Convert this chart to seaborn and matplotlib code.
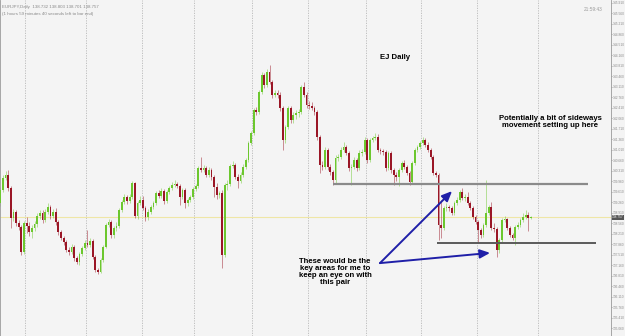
import numpy as np
import pandas as pd
import matplotlib
matplotlib.use("Agg")
import matplotlib.pyplot as plt
import seaborn as sns

# ---------------- data (EURJPY daily) ----------------
first_open = 139.23
closes = [139.67, 140.07, 140.17, 139.73, 138.73, 138.93, 138.57, 138.43, 137.60, 138.57,
          138.47, 138.27, 138.40, 138.53, 138.80, 138.90, 138.67, 138.93, 139.10, 138.80,
          138.93, 138.60, 138.27, 138.07, 137.93, 137.67, 137.60, 137.77, 137.40, 137.27,
          137.53, 137.73, 137.90, 137.83, 137.97, 137.43, 137.00, 136.93, 137.33, 137.77,
          138.50, 138.60, 138.17, 138.40, 138.47, 139.00, 139.27, 139.43, 139.30, 139.43,
          139.90, 138.80, 139.23, 139.33, 139.07, 138.77, 138.93, 139.10, 139.23, 139.57,
          139.47, 139.63, 139.30, 139.60, 139.73, 139.83, 139.87, 139.80, 139.43, 139.67,
          139.23, 139.33, 139.43, 139.70, 139.80, 140.40, 140.33, 140.40, 140.17, 140.33,
          140.10, 139.77, 139.50, 139.57, 137.50, 139.83, 139.87, 140.47, 140.50, 140.10,
          139.97, 140.17, 140.43, 140.67, 141.23, 141.57, 142.33, 142.27, 142.93, 143.50,
          143.17, 143.60, 143.27, 142.83, 142.90, 142.83, 142.40, 141.33, 141.77, 142.40,
          142.00, 142.17, 142.23, 142.27, 143.10, 142.83, 142.50, 142.47, 142.40, 142.27,
          141.43, 140.50, 140.43, 141.00, 140.43, 140.27, 140.00, 140.73, 140.77, 141.00,
          141.10, 140.90, 140.40, 140.43, 140.67, 140.40, 140.90, 140.93, 141.33, 140.67,
          141.33, 141.40, 141.43, 141.00, 140.97, 140.93, 140.40, 140.90, 140.33, 140.17,
          140.10, 140.33, 140.57, 140.43, 140.23, 139.93, 140.57, 141.00, 141.10, 141.23,
          141.33, 141.17, 141.00, 140.77, 140.23, 140.17, 138.50, 138.40, 139.07, 139.10,
          139.07, 138.90, 139.23, 139.33, 139.60, 139.40, 139.43, 139.23, 139.07, 138.77,
          138.60, 138.33, 138.17, 138.50, 138.90, 139.10, 138.40, 138.37, 137.67, 138.00,
          138.67, 138.70, 138.40, 138.17, 138.07, 138.43, 138.50, 138.67, 138.77, 138.83,
          138.73, 138.76]
highs = [139.77, 140.17, 140.30, 140.33, 139.80, 139.03, 139.00, 138.67, 138.50, 138.63,
         138.77, 138.60, 138.50, 138.63, 138.90, 139.00, 139.00, 139.03, 139.23, 139.17,
         139.03, 139.07, 138.67, 138.33, 138.13, 138.00, 137.77, 137.87, 137.83, 137.47,
         137.60, 137.80, 138.00, 138.33, 138.07, 138.03, 137.50, 137.07, 137.40, 137.83,
         138.57, 138.70, 138.67, 138.47, 138.60, 139.07, 139.33, 139.53, 139.50, 139.53,
         139.97, 139.93, 139.30, 139.47, 139.47, 139.13, 139.03, 139.17, 139.30, 139.63,
         139.67, 139.73, 139.70, 139.67, 139.80, 139.93, 140.00, 139.93, 139.87, 139.73,
         139.73, 139.40, 139.50, 139.77, 139.87, 140.47, 140.77, 140.50, 140.47, 140.43,
         140.40, 140.17, 139.90, 139.63, 139.67, 139.90, 140.00, 140.53, 140.63, 140.57,
         140.20, 140.27, 140.53, 140.73, 141.30, 141.63, 142.40, 142.43, 143.00, 143.60,
         143.57, 143.70, 143.83, 143.33, 143.00, 143.00, 142.93, 142.47, 141.83, 142.47,
         142.47, 142.27, 142.33, 142.37, 143.17, 143.27, 142.93, 142.63, 142.60, 142.47,
         142.33, 141.50, 140.63, 141.10, 141.07, 140.53, 140.33, 140.83, 140.87, 141.10,
         141.27, 141.17, 140.97, 140.53, 140.77, 140.73, 141.00, 141.03, 141.43, 141.40,
         141.40, 141.47, 141.57, 141.53, 141.07, 141.03, 141.00, 140.97, 140.97, 140.40,
         140.27, 140.40, 140.63, 140.67, 140.50, 140.30, 140.63, 141.07, 141.17, 141.30,
         141.43, 141.40, 141.27, 141.07, 140.83, 140.30, 140.23, 139.33, 139.13, 139.23,
         139.17, 139.13, 139.30, 139.43, 139.67, 139.73, 139.53, 139.60, 139.30, 139.13,
         138.83, 138.67, 138.40, 138.57, 140.00, 139.17, 139.27, 138.57, 138.43, 138.07,
         138.73, 138.80, 138.73, 138.47, 138.23, 138.50, 138.60, 138.73, 138.90, 139.00,
         138.93, 138.80]
lows = [139.13, 139.60, 140.00, 139.63, 138.40, 138.63, 138.47, 138.33, 137.50, 137.53,
        138.23, 138.13, 138.07, 138.30, 138.43, 138.70, 138.57, 138.60, 138.87, 138.70,
        138.73, 138.50, 138.17, 138.00, 137.83, 137.60, 137.50, 137.53, 137.30, 137.20,
        137.17, 137.47, 137.67, 137.77, 137.77, 137.37, 136.93, 136.87, 136.90, 137.27,
        137.73, 138.43, 138.07, 138.07, 138.30, 138.40, 138.93, 139.20, 139.20, 139.23,
        139.37, 138.73, 138.70, 139.17, 139.00, 138.63, 138.67, 138.87, 139.03, 139.17,
        139.40, 139.40, 139.20, 139.23, 139.53, 139.67, 139.77, 139.73, 139.17, 139.37,
        139.07, 139.13, 139.27, 139.37, 139.63, 139.73, 140.27, 140.27, 140.10, 140.10,
        140.00, 139.43, 139.37, 139.40, 137.07, 137.43, 139.67, 139.80, 140.40, 140.03,
        139.73, 139.90, 140.10, 140.37, 140.60, 141.17, 141.50, 142.17, 142.20, 142.87,
        143.07, 143.10, 143.20, 142.73, 142.77, 142.73, 142.30, 141.00, 141.23, 141.70,
        141.90, 141.90, 142.03, 142.10, 142.20, 142.77, 142.40, 142.37, 142.33, 142.17,
        141.33, 140.23, 140.33, 140.37, 140.33, 140.17, 139.83, 139.90, 140.63, 140.70,
        140.93, 140.83, 140.30, 139.83, 140.37, 140.30, 140.33, 140.80, 140.87, 140.57,
        140.60, 141.27, 141.33, 140.93, 140.87, 140.83, 140.30, 140.33, 140.23, 139.83,
        139.97, 139.80, 140.27, 140.37, 140.17, 139.83, 139.87, 140.50, 140.93, 141.03,
        141.17, 141.10, 140.93, 140.70, 140.17, 140.10, 138.00, 138.07, 138.33, 138.97,
        138.97, 138.83, 138.83, 139.17, 139.27, 139.33, 139.30, 139.17, 139.00, 138.70,
        138.53, 137.90, 138.07, 138.10, 138.43, 138.83, 138.33, 138.27, 137.43, 137.57,
        137.93, 138.60, 138.33, 138.10, 138.00, 137.83, 138.37, 138.43, 138.60, 138.70,
        138.30, 138.70]

month_breaks = [9.5, 32.5, 53.5, 73.5, 95.5, 116.5, 138.5, 159.5, 180.5, 203.5]
price_ticks = [145.910, 145.560, 145.210, 144.860, 144.510, 144.160, 143.810, 143.460,
               143.110, 142.760, 142.410, 142.060, 141.710, 141.360, 141.010, 140.660,
               140.310, 139.960, 139.610, 139.260, 138.910, 138.560, 138.210, 137.860,
               137.510, 137.160, 136.810, 136.460, 136.110, 135.760, 135.410, 135.060]
current_price = 138.757
resistance = {"price": 139.86, "start": 126.0, "end": 222.6}
support = {"price": 137.89, "start": 165.3, "end": 225.6}
arrow_start = (143.8, 137.23)
arrow_tips = [(171.1, 139.63), (185.5, 137.57)]

df = pd.DataFrame({"close": closes, "high": highs, "low": lows})
df["open"] = [first_open] + closes[:-1]
df["bar"] = np.arange(len(df))
df["bull"] = df["close"] >= df["open"]

# ---------------- style ----------------
sns.set_theme(style="white")
plt.rcParams["font.family"] = ["Liberation Sans", "DejaVu Sans"]

BG = "#f4f4f4"
GREEN = "#6cc72e"
RED = "#9a1626"

fig = plt.figure(figsize=(6.25, 3.36), dpi=100, facecolor=BG)
ax = fig.add_axes([0.0, 0.0, 611 / 625, 1.0])
ax.set_facecolor(BG)
ax.set_xlim(-0.1, 231.3)
ax.set_ylim(134.80, 146.00)

for xb in month_breaks:
    ax.axvline(xb, color="#b8b8b8", lw=0.6, ls=(0, (1.5, 1.5)), zorder=0)

ax.axhline(current_price, color="#efe6a6", lw=0.8, zorder=1)

colors = np.where(df["bull"], GREEN, RED)
ax.vlines(df["bar"], df["low"], df["high"], colors=colors, lw=0.55, alpha=0.6, zorder=2)
body_bottom = np.minimum(df["open"], df["close"])
body_height = np.maximum(np.abs(df["close"] - df["open"]), 0.02)
ax.bar(df["bar"], body_height, bottom=body_bottom, width=0.68, color=colors,
       linewidth=0, zorder=3)

# support / resistance lines
ax.hlines(resistance["price"], resistance["start"], resistance["end"], color="#8a8a8a", lw=1.6, zorder=4)
ax.hlines(support["price"], support["start"], support["end"], color="#5a5a5a", lw=1.4, zorder=4)

# arrows
for tip in arrow_tips:
    ax.annotate("", xy=tip, xytext=arrow_start,
                arrowprops=dict(arrowstyle="-|>,head_length=0.5,head_width=0.22",
                                color="#1f1fa8", lw=1.4, shrinkA=0, shrinkB=0), zorder=5)

txt = dict(fontweight="bold", color="black", ha="center", va="center", fontsize=5.6)
ax.text(149.5, 144.10, "EJ Daily", **txt)
ax.text(208.2, 141.93, "Potentially a bit of sideways\nmovement setting up here",
        linespacing=1.1, **txt)
ax.text(126.8, 136.93, "These would be the\nkey areas for me to\nkeep an eye on with\nthis pair",
        linespacing=1.05, **txt)

# header texts
ax.text(0.004, 0.985, "EURJPY,Daily  138.732 138.803 138.701 138.757", transform=ax.transAxes,
        fontsize=3.2, color="#8a8a8a", va="top", ha="left")
ax.text(0.004, 0.965, "(1 hours 59 minutes 40 seconds left to bar end)", transform=ax.transAxes,
        fontsize=3.2, color="#8a8a8a", va="top", ha="left")
ax.text(0.986, 0.972, "21:59:43", transform=ax.transAxes,
        fontsize=3.4, color="#9a9a9a", va="center", ha="right")

# right price axis
ax.yaxis.tick_right()
ax.set_yticks(price_ticks)
ax.set_yticklabels([f"{p:.3f}" for p in price_ticks])
ax.tick_params(axis="y", labelsize=2.3, labelcolor="#8a8a8a", color="#8a8a8a",
               length=1.0, width=0.5, pad=0.4, right=True)
ax.set_xticks([])
for s in ["top", "bottom"]:
    ax.spines[s].set_visible(False)
ax.spines["left"].set_color("#9a9a9a")
ax.spines["left"].set_linewidth(0.6)
ax.spines["right"].set_color("#9a9a9a")
ax.spines["right"].set_linewidth(0.6)

ax.text(1.0015, current_price, f"{current_price:.3f}", transform=ax.get_yaxis_transform(),
        fontsize=2.3, color="white", va="center", ha="left",
        bbox=dict(boxstyle="square,pad=0.12", fc="#555555", ec="none"), clip_on=False)

fig.savefig("out.png", dpi=100, facecolor=BG)
